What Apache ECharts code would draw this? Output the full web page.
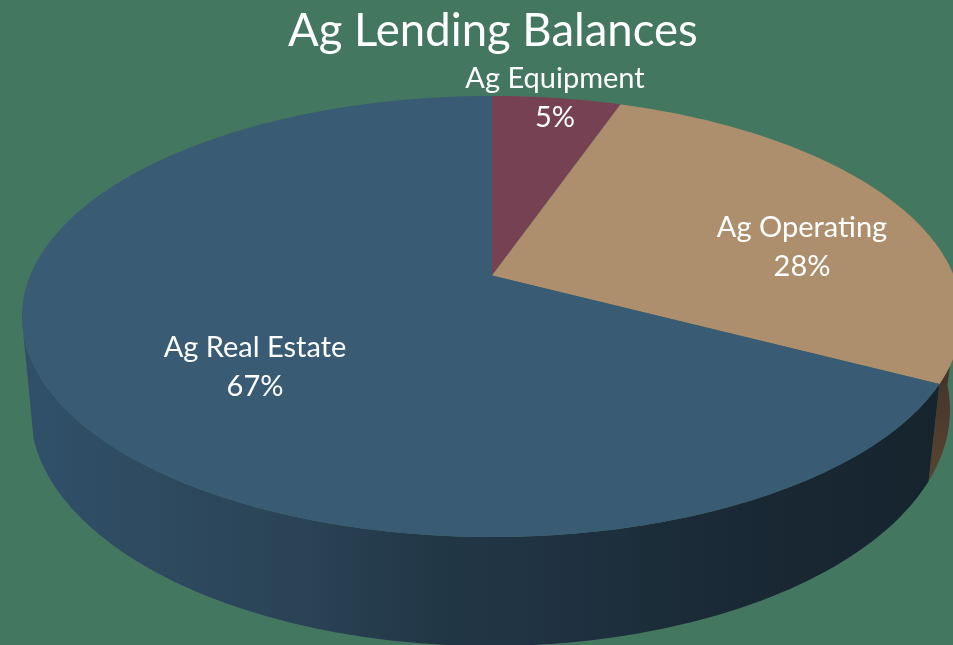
<!DOCTYPE html>
<html><head><meta charset="utf-8">
<style>html,body{margin:0;padding:0;background:#447760}#c{width:953px;height:645px}</style>
<script src="https://cdn.jsdelivr.net/npm/echarts@6/dist/echarts.min.js"></script>
</head><body><div id="c"></div>
<script>
const categories = ['Ag Equipment', 'Ag Operating', 'Ag Real Estate'];
const shares = [5.3, 27.4, 67.3];
const shareLabels = ['5%', '28%', '67%'];
const topColors = ['#764152', '#ad8f6e', '#395b74'];

const W = 953, H = 645;
const topRim = {cx: 492, cy: 316.5, rx: 470, ry: 220.5, d: 0.186};
const lowRim = {cx: 490, cy: 410, rx: 460, ry: 236, d: 0.19};
const visibleFrom = 95, topVisibleTo = 258, lowVisibleTo = 252;
const labelPos = [[555, 59], [802, 208], [255, 328]];
const sideFills = [
  null,
  {type:'linear', x:0, y:383, x2:0, y2:487, global:true, colorStops:[{offset:0,color:'#46362a'},{offset:1,color:'#5a4533'}]},
  {type:'linear', x:30, y:0, x2:930, y2:0, global:true, colorStops:[
    {offset:0,color:'#30506a'},{offset:0.12,color:'#2e4b61'},{offset:0.3,color:'#2a4356'},{offset:0.45,color:'#223746'},
    {offset:0.6,color:'#1f3140'},{offset:0.75,color:'#1a2a36'},{offset:1,color:'#16242e'}]}
];

function project(rim, deg, r) {
  const a = deg * Math.PI / 180, x = r * Math.sin(a), y = r * Math.cos(a), k = 1 + y * rim.d;
  return [rim.cx + rim.rx * x * Math.sqrt(1 - rim.d * rim.d) / k,
          rim.cy - rim.ry * (y + rim.d) / k];
}
function range(i) {
  const total = shares.reduce((a, b) => a + b, 0);
  const before = shares.slice(0, i).reduce((a, b) => a + b, 0);
  return [before / total * 360, (before + shares[i]) / total * 360];
}
function arc(rim, a, b) {
  const pts = [], n = Math.max(2, Math.ceil(Math.abs(b - a)));
  for (let j = 0; j <= n; j++) pts.push(project(rim, a + (b - a) * j / n, 1));
  return pts;
}
function renderSide(params, api) {
  const i = params.dataIndex, [s, e] = range(i);
  const a = Math.max(s, visibleFrom);
  const bTop = Math.min(e, topVisibleTo), bLow = Math.min(e, lowVisibleTo);
  if (a >= bTop || !sideFills[i]) return {type: 'group', children: []};
  return {type: 'polygon', silent: true,
    shape: {points: arc(topRim, a, bTop).concat(arc(lowRim, bLow, a))},
    style: {fill: sideFills[i]}};
}
function renderTop(params, api) {
  const i = params.dataIndex, [s, e] = range(i);
  return {type: 'polygon', silent: true,
    shape: {points: [project(topRim, 0, 0)].concat(arc(topRim, s, e))},
    style: {fill: topColors[i]}};
}
function renderLabel(params, api) {
  const i = params.dataIndex, p = labelPos[i];
  return {type: 'text', silent: true, x: p[0], y: p[1],
    style: {text: categories[i] + '\n' + shareLabels[i], fill: '#ffffff', align: 'center',
      verticalAlign: 'top', font: '29px Lato', lineHeight: 39}};
}
const rows = shares.map(v => [v]);
const base = {type: 'custom', coordinateSystem: 'none', data: rows, animation: false, silent: true};
const chart = echarts.init(document.getElementById('c'), null, {renderer: 'canvas', width: W, height: H});
chart.setOption({
  backgroundColor: '#447760',
  animation: false,
  title: {text: 'Ag Lending Balances', left: 283, top: 3,
    textStyle: {color: '#ffffff', fontFamily: 'Lato', fontWeight: 'normal', fontSize: 45.5}},
  series: [
    Object.assign({}, base, {renderItem: renderSide, z: 1}),
    Object.assign({}, base, {renderItem: renderTop, z: 2}),
    Object.assign({}, base, {renderItem: renderLabel, z: 3})
  ]
});
</script></body></html>
